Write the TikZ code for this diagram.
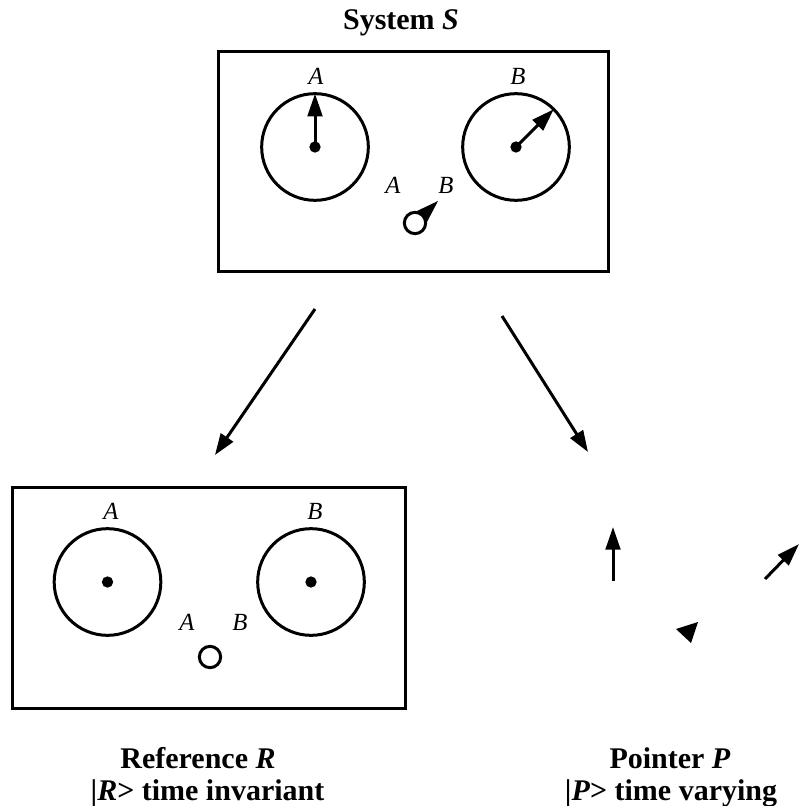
\documentclass[tikz,border=0pt]{standalone}
\usepackage{fontspec}
\setmainfont{Liberation Serif}
\usetikzlibrary{arrows.meta,calc}
\begin{document}
\begin{tikzpicture}[x=0.75pt,y=-0.75pt,
  thick line/.style={line width=2.25pt},
  boxframe/.style={draw,thick line,rectangle,inner sep=0pt,outer sep=0pt},
  dial/.style={draw,thick line,circle,inner sep=0pt,outer sep=0pt,minimum size=80pt},
  hub/.style={fill,circle,inner sep=0pt,minimum size=8.5pt},
  knob/.style={draw,thick line,circle,fill=white,inner sep=0pt,outer sep=0pt,minimum size=16pt},
  needle/.style={thick line,-{Triangle[length=17pt,width=11pt]}},
  bigarrow/.style={thick line,-{Triangle[length=16pt,width=11pt]}},
  lab/.style={inner sep=0pt,anchor=base,font=\fontsize{18.5}{22}\selectfont\itshape},
  caption/.style={inner sep=0pt,anchor=base,font=\fontsize{22.5}{27}\selectfont\bfseries}]
\useasboundingbox (0,0) rectangle (799,806);

% ---- System S ----
\node[caption] (title) at (401,30) {System \textit{S}};
\node[boxframe,minimum width=292.5pt,minimum height=164.25pt] (rectS) at (413,161.5) {};
\node[dial] (dSA) at (315,147) {};
\node[dial] (dSB) at (516,147) {};
\node[hub] (hSA) at (315,147) {};
\node[hub] (hSB) at (516,147) {};
\draw[needle] (hSA.center) -- (dSA.north);
\draw[needle] (hSB.center) -- (dSB.north east);
\node[lab] (lSA) at (316,85) {A};
\node[lab] (lSB) at (518,85) {B};
\node[lab] (mSA) at (393,194) {A};
\node[lab] (mSB) at (446,194) {B};
\coordinate (kS) at (415,223);
\coordinate (kStip) at (438,201);
\fill (kStip) -- ($(kS)+(-7.5,-7.5)$) -- ($(kS)+(7.5,7.5)$) -- cycle;
\node[knob] (knobS) at (kS) {};

% ---- arrows ----
\coordinate (a1s) at (315,309);
\coordinate (a1e) at (215,455);
\coordinate (a2s) at (502,316);
\coordinate (a2e) at (588,452);
\draw[bigarrow] (a1s) -- (a1e);
\draw[bigarrow] (a2s) -- (a2e);

% ---- Reference R ----
\node[boxframe,minimum width=295pt,minimum height=165.75pt] (rectR) at (209,597.5) {};
\node[dial] (dRA) at (107.5,582) {};
\node[dial] (dRB) at (311,582) {};
\node[hub] (hRA) at (107.5,582) {};
\node[hub] (hRB) at (311,582) {};
\node[lab] (lRA) at (111,519) {A};
\node[lab] (lRB) at (315,519) {B};
\node[lab] (mRA) at (187,630) {A};
\node[lab] (mRB) at (240,630) {B};
\node[knob] (knobR) at (210,657) {};
\node[caption] (capR1) at (198,768) {Reference \textit{R}};
\node[caption] (capR2) at (207.5,800) {|\textit{R}> time invariant};

% ---- Pointer P ----
\coordinate (p1s) at (613,581);
\coordinate (p1e) at (613,527);
\draw[needle] (p1s) -- (p1e);
\coordinate (p2s) at (765,579);
\coordinate (p2e) at (799,544);
\draw[needle] (p2s) -- (p2e);
\coordinate (t1) at (676,629);
\coordinate (t2) at (698,622);
\coordinate (t3) at (691,643);
\fill (t1) -- (t2) -- (t3) -- cycle;
\node[caption] (capP1) at (670,768) {Pointer \textit{P}};
\node[caption] (capP2) at (671,800) {|\textit{P}> time varying};
\end{tikzpicture}
\end{document}
